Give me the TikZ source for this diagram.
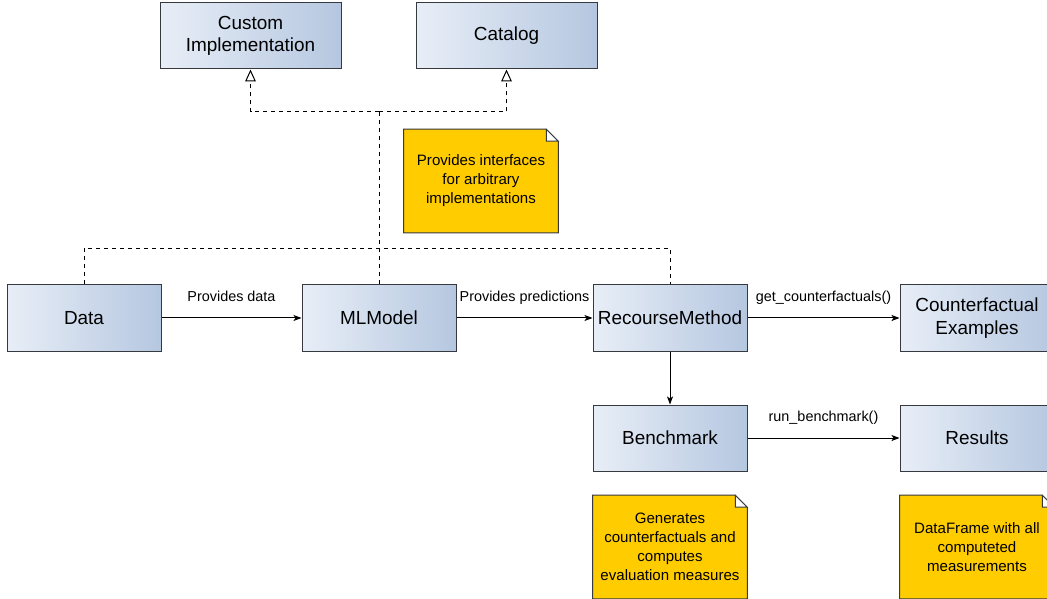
\documentclass[tikz,border=0pt]{standalone}
\usepackage{fontspec}
\setmainfont{Liberation Sans}
\usetikzlibrary{arrows.meta,backgrounds}
\definecolor{boxleft}{HTML}{E8EEF7}
\definecolor{boxright}{HTML}{B5C7E0}
\definecolor{noteyellow}{HTML}{FFCC00}
\definecolor{edgegray}{HTML}{36393D}

\begin{document}
\begin{tikzpicture}[x=0.75pt,y=-0.75pt]
\tikzstyle{every node}=[font=\fontsize{10.8}{14.2}\selectfont]
\tikzstyle{block}=[draw=edgegray,line width=0.75pt,left color=boxleft,right color=boxright,minimum width=115.5pt,minimum height=49.5pt,align=center,font=\fontsize{14.2}{17}\selectfont]
\tikzstyle{wideblock}=[block,minimum width=135.75pt]
\tikzstyle{note}=[minimum width=115.5pt,minimum height=77.25pt,align=center,font=\fontsize{11.3}{14.2}\selectfont]
\tikzstyle{lbl}=[above=6pt,text height=1.6ex,text depth=0.5ex]
\tikzstyle{link}=[line width=0.75pt,-{Stealth[length=6pt,width=4.5pt,inset=1.5pt]}]
\tikzstyle{realize}=[line width=0.75pt,dashed,-{Triangle[open,length=9pt,width=8pt]}]
\useasboundingbox (0,0) rectangle (1047,599);

% classes
\node[wideblock] (custom) at (250.5,36) {Custom\\Implementation};
\node[wideblock] (catalog) at (506.5,36) {Catalog};
\node[block] (data) at (84,318) {Data};
\node[block] (model) at (379,318) {MLModel};
\node[block] (recourse) at (670,318) {RecourseMethod};
\node[block] (cf) at (977,318) {Counterfactual\\Examples};
\node[block] (bench) at (670,438) {Benchmark};
\node[block] (results) at (977,438) {Results};

% notes
\node[note] (ifacenote) at (481,181) {Provides interfaces\\for arbitrary\\implementations};
\node[note] (benchnote) at (670,547) {Generates\\counterfactuals and\\computes\\evaluation measures};
\node[note] (resnote) at (977,547) {DataFrame with all\\computeted\\measurements};
\begin{scope}[on background layer]
\foreach \n in {ifacenote,benchnote,resnote}{
  \draw[edgegray,fill=noteyellow,line width=0.75pt] (\n.north west) -- ([xshift=-9pt]\n.north east) -- ([yshift=-9pt]\n.north east) -- (\n.south east) -- (\n.south west) -- cycle;
  \draw[edgegray,fill=white,line width=0.75pt] ([xshift=-9pt]\n.north east) -- ([xshift=-9pt,yshift=-9pt]\n.north east) -- ([yshift=-9pt]\n.north east) -- cycle;
}
\end{scope}

% interfaces
\coordinate (split) at (379,112);
\draw[line width=0.75pt,dashed] (model.north) -- (split);
\draw[realize] (split) -| (custom.south);
\draw[realize] (split) -| (catalog.south);
\draw[line width=0.75pt,dashed] (data.north) -- ++(0,-36) -| (recourse.north);

% flow
\draw[link] (data) -- node[lbl]{Provides data} (model);
\draw[link] (model) -- node[lbl]{Provides predictions} (recourse);
\draw[link] (recourse) -- node[lbl]{get\_counterfactuals()} (cf);
\draw[link] (recourse) -- (bench);
\draw[link] (bench) -- node[lbl]{run\_benchmark()} (results);

\end{tikzpicture}
\end{document}
